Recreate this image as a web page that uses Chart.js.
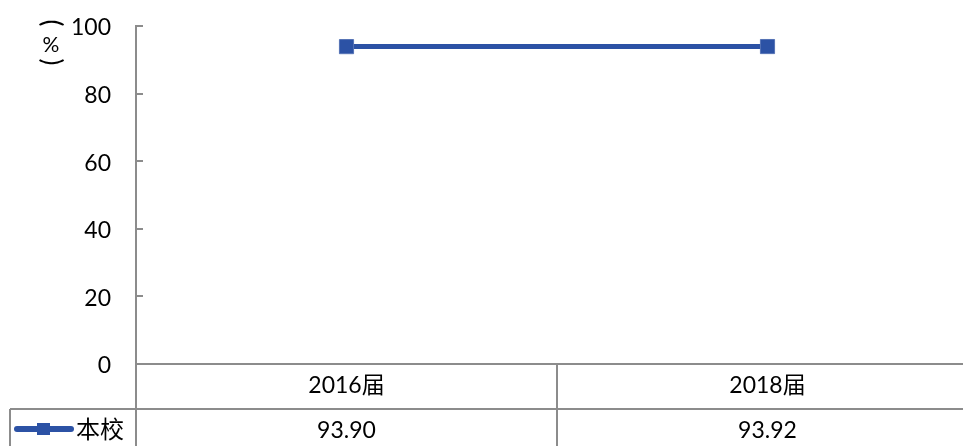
<!DOCTYPE html>
<html>
<head>
<meta charset="utf-8">
<script src="https://cdn.jsdelivr.net/npm/chart.js@4/dist/chart.umd.min.js"></script>
<style>
html,body{margin:0;padding:0;background:#fff;overflow:hidden;width:963px;height:446px;}
#wrap{position:absolute;left:0;top:0;width:990px;height:446px;}
</style>
</head>
<body>
<div id="wrap"><canvas id="c" width="990" height="446"></canvas></div>
<script>
const categories = ['2016届', '2018届'];
const seriesName = '本校';
const seriesValues = [93.90, 93.92];
const valueLabels = ['93.90', '93.92'];
const yTicks = [0, 20, 40, 60, 80, 100];
const yTitleChars = ['(', '%', ')'];

const FONT = "Lato, 'Noto Sans CJK SC', sans-serif";
const GRID = '#8c8c8c';
const LINE = '#2C52A5';

const tablePlugin = {
  id: 'tablePlugin',
  afterDraw(chart) {
    const ctx = chart.ctx;
    const ys = chart.scales.y, xs = chart.scales.x;
    const left = chart.chartArea.left, right = chart.chartArea.right;
    const top = chart.chartArea.top, bottom = chart.chartArea.bottom;
    const rowH = 45;
    const row2 = bottom + rowH;
    ctx.save();
    ctx.strokeStyle = GRID;
    ctx.lineWidth = 2;
    ctx.beginPath();
    ctx.moveTo(left, top - 1); ctx.lineTo(left, 446);
    yTicks.forEach(v => {
      const py = Math.round(ys.getPixelForValue(v));
      ctx.moveTo(left, py); ctx.lineTo(left + 7, py);
    });
    ctx.moveTo(left, bottom); ctx.lineTo(right, bottom);
    ctx.moveTo(10, row2); ctx.lineTo(right, row2);
    ctx.moveTo(10, row2); ctx.lineTo(10, 446);
    for (let i = 1; i < categories.length; i++) {
      const px = (xs.getPixelForValue(i - 1) + xs.getPixelForValue(i)) / 2;
      ctx.moveTo(px, bottom); ctx.lineTo(px, 446);
    }
    ctx.stroke();

    // y tick labels
    ctx.fillStyle = '#000';
    ctx.font = '23px ' + FONT;
    ctx.textAlign = 'right';
    ctx.textBaseline = 'middle';
    yTicks.forEach(v => {
      ctx.fillText(String(v), 111, ys.getPixelForValue(v) + 2);
    });

    ctx.textAlign = 'center';
    categories.forEach((c, i) => {
      ctx.fillText(c, xs.getPixelForValue(i), bottom + 22);
    });
    valueLabels.forEach((t, i) => {
      ctx.fillText(t, xs.getPixelForValue(i), row2 + 22);
    });
    const ky = row2 + 20;
    ctx.strokeStyle = LINE;
    ctx.lineWidth = 6;
    ctx.lineCap = 'round';
    ctx.beginPath();
    ctx.moveTo(17, ky); ctx.lineTo(71, ky);
    ctx.stroke();
    ctx.fillStyle = LINE;
    ctx.fillRect(37, ky - 6, 13, 12);
    ctx.fillStyle = '#000';
    ctx.textAlign = 'left';
    ctx.font = '24px ' + FONT;
    ctx.fillText(seriesName, 76, row2 + 21);

    // vertical y-axis title
    const cx = 51;
    ctx.textAlign = 'center';
    ctx.textBaseline = 'middle';
    const pos = [23, 45, 62];
    yTitleChars.forEach((ch, i) => {
      ctx.save();
      ctx.translate(cx, pos[i]);
      if (ch !== '%') {
        ctx.font = '26px ' + FONT;
        ctx.rotate(Math.PI / 2);
      } else {
        ctx.font = '21px ' + FONT;
      }
      ctx.fillText(ch, 0, 0);
      ctx.restore();
    });
    ctx.restore();
  }
};

new Chart(document.getElementById('c'), {
  type: 'line',
  data: {
    labels: categories,
    datasets: [{
      label: seriesName,
      data: seriesValues,
      borderColor: LINE,
      backgroundColor: LINE,
      borderWidth: 5,
      pointStyle: 'rect',
      pointRadius: 10,
      pointBorderWidth: 1,
      pointBorderColor: '#5673b5',
      pointBackgroundColor: LINE,
      tension: 0
    }]
  },
  options: {
    responsive: false,
    animation: false,
    events: [],
    layout: { padding: { left: 0, right: 12, top: 26, bottom: 82 } },
    plugins: { legend: { display: false }, tooltip: { enabled: false } },
    scales: {
      x: { type: 'category', offset: true, display: false },
      y: {
        min: 0, max: 100,
        afterFit(s) { s.width = 136; },
        afterBuildTicks(s) { s.ticks = yTicks.map(v => ({ value: v })); },
        grid: { display: false, drawTicks: false },
        border: { display: false },
        ticks: { display: false }
      }
    }
  },
  plugins: [tablePlugin]
});
</script>
</body>
</html>
